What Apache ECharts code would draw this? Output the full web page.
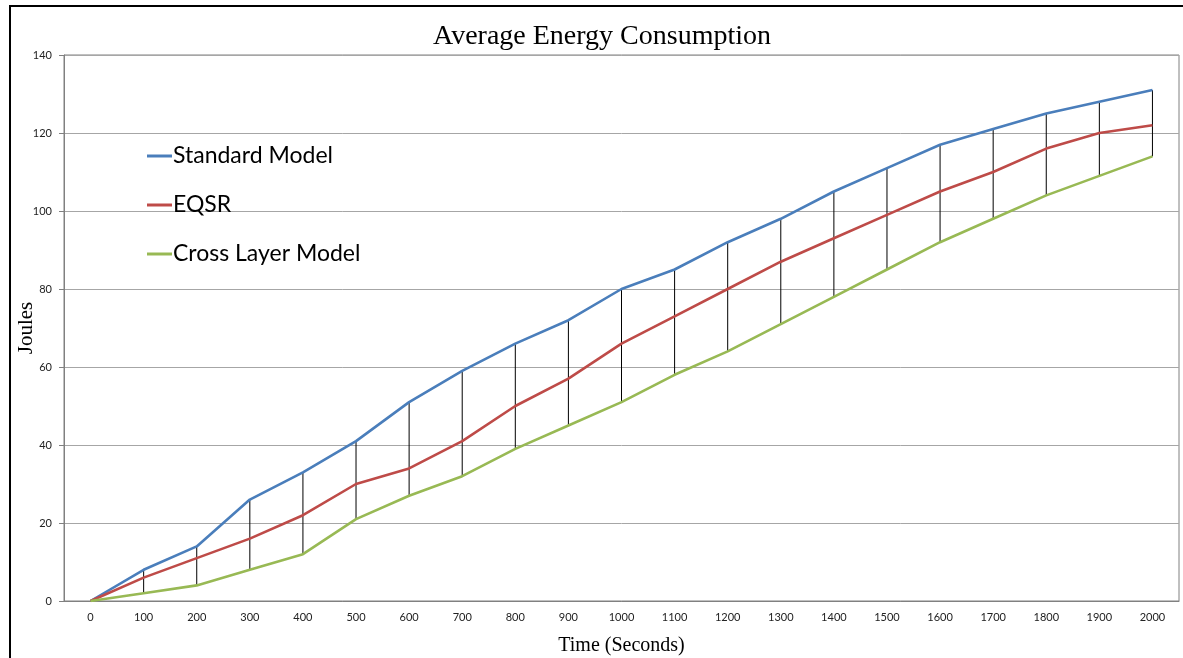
<!DOCTYPE html>
<html>
<head>
<meta charset="utf-8">
<script src="https://cdn.jsdelivr.net/npm/echarts@6/dist/echarts.min.js"></script>
<style>
html,body{margin:0;padding:0;background:#fff;}
#chart{width:1183px;height:658px;}
</style>
</head>
<body>
<div id="chart"></div>
<script>
const categories = ['0','100','200','300','400','500','600','700','800','900','1000','1100','1200','1300','1400','1500','1600','1700','1800','1900','2000'];
const standardModel = [0, 8, 14, 26, 33, 41, 51, 59, 66, 72, 80, 85, 92, 98, 105, 111, 117, 121, 125, 128, 131];
const eqsr = [0, 6, 11, 16, 22, 30, 34, 41, 50, 57, 66, 73, 80, 87, 93, 99, 105, 110, 116, 120, 122];
const crossLayer = [0, 2, 4, 8, 12, 21, 27, 32, 39, 45, 51, 58, 64, 71, 78, 85, 92, 98, 104, 109, 114];
const yTicks = [0, 20, 40, 60, 80, 100, 120, 140];

const seriesNames = ['Standard Model', 'EQSR', 'Cross Layer Model'];
const seriesColors = ['#4A7EBB', '#BE4B48', '#98B954'];
const seriesData = [standardModel, eqsr, crossLayer];

const hiLo = categories.map((c, i) => {
  const vals = seriesData.map(s => s[i]);
  return [i, Math.max(...vals), Math.min(...vals)];
});

const chart = echarts.init(document.getElementById('chart'), null, {renderer: 'canvas'});
const option = {
  animation: false,
  backgroundColor: '#fff',
  title: {
    text: 'Average Energy Consumption',
    left: 602, top: 23, textAlign: 'center', padding: 0,
    textStyle: {fontFamily: 'Liberation Serif', fontSize: 28, fontWeight: 'normal', color: '#000'}
  },
  graphic: [{
    type: 'rect', silent: true, z: 100,
    shape: {x: 10, y: 6, width: 1200, height: 700},
    style: {fill: 'none', stroke: '#000', lineWidth: 2}
  }],
  legend: {
    orient: 'vertical', left: 147, top: 144, padding: 0,
    itemGap: 25, itemWidth: 25, itemHeight: 3, icon: 'rect',
    data: seriesNames,
    textStyle: {fontFamily: 'Lato', fontSize: 23, color: '#000', lineHeight: 24, padding: [0, 0, 0, -4]}
  },
  grid: {left: 64, right: 4, top: 55, bottom: 57, show: true, borderColor: '#808080', borderWidth: 1, outerBoundsMode: 'none', containLabel: false},
  xAxis: {
    type: 'category', data: categories, boundaryGap: true,
    name: 'Time (Seconds)', nameLocation: 'middle', nameGap: 35,
    nameTextStyle: {fontFamily: 'Liberation Serif', fontSize: 20, color: '#000'},
    axisLine: {lineStyle: {color: '#808080'}},
    axisTick: {show: false},
    axisLabel: {fontFamily: 'Lato', fontSize: 11, color: '#222', margin: 11},
    splitLine: {show: false}
  },
  yAxis: {
    type: 'value', min: yTicks[0], max: yTicks[yTicks.length - 1], interval: 20,
    name: 'Joules', nameLocation: 'middle', nameGap: 27, nameRotate: 90, nameMoveOverlap: false,
    nameTextStyle: {fontFamily: 'Liberation Serif', fontSize: 21, color: '#000'},
    axisLine: {show: true, lineStyle: {color: '#808080'}},
    axisTick: {show: true, length: 5, lineStyle: {color: '#808080'}},
    axisLabel: {fontFamily: 'Lato', fontSize: 11, color: '#222', margin: 12},
    splitLine: {lineStyle: {color: '#a6a6a6', width: 1}}
  },
  series: [
    {
      type: 'custom', name: 'hilo', z: 1, silent: true,
      data: hiLo,
      renderItem: function (params, api) {
        const p1 = api.coord([api.value(0), api.value(1)]);
        const p2 = api.coord([api.value(0), api.value(2)]);
        return {type: 'line', shape: {x1: p1[0], y1: p1[1], x2: p2[0], y2: p2[1]},
                style: {stroke: '#000', lineWidth: 1}};
      }
    }
  ].concat(seriesNames.map((n, k) => ({
    type: 'line', name: n, data: seriesData[k], z: 3,
    showSymbol: false, symbol: 'none',
    color: seriesColors[k],
    lineStyle: {color: seriesColors[k], width: 2.6}
  })))
};
chart.setOption(option);
</script>
</body>
</html>
